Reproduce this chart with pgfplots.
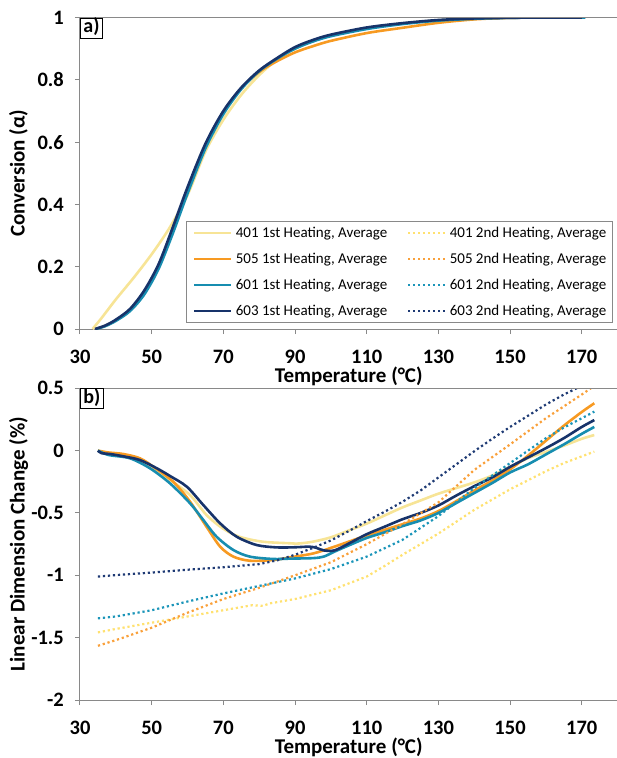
\documentclass[border=0pt]{standalone}
\usepackage{fontspec}
\setmainfont{Carlito}
\usepackage{pgfplots}
\pgfplotsset{compat=1.18}

\definecolor{axgray}{HTML}{898989}
\definecolor{cA}{HTML}{F7E496}% 401
\definecolor{cB}{HTML}{F79A22}% 505
\definecolor{cC}{HTML}{178DB0}% 601
\definecolor{cD}{HTML}{17336A}% 603
\definecolor{dA}{HTML}{FFE170}
\definecolor{dB}{HTML}{F9A03A}
\definecolor{dC}{HTML}{1B95B9}
\definecolor{dD}{HTML}{1E3A74}

\newcommand\tickfont{\bfseries\fontsize{20.5}{22}\selectfont}
\newcommand\labfont{\bfseries\fontsize{21}{22}\selectfont}

\tikzset{
  first/.style={smooth, tension=0.5, line width=2.6pt, line join=round},
  second/.style={line width=2.2pt, dash pattern=on 2.2pt off 2.8pt},
  tag/.style={draw=black, fill=white, line width=0.8pt,
    font=\bfseries\fontsize{20}{22}\selectfont,
    inner xsep=3pt, inner ysep=0pt, text height=15pt, text depth=5pt},
}

\pgfplotsset{
  panel/.style={
    scale only axis, width=537.6pt,
    xmin=30, xmax=180,
    axis x line*=bottom, axis y line*=left,
    axis line style={draw=axgray, line width=1pt},
    tick align=outside, major tick length=5pt,
    tick style={draw=axgray, line width=1pt},
    xtick={30,50,70,90,110,130,150,170},
    xticklabels={30,50,70,90,110,130,150,170},
    ticklabel style={font=\tickfont},
    xticklabel style={anchor=north, inner sep=0pt},
    yticklabel style={anchor=east, inner sep=0pt},
    xticklabel shift=16pt, yticklabel shift=11pt,
    xlabel={Temperature (°C)},
    label style={font=\labfont, inner sep=0pt},
    xlabel style={at={(axis description cs:0.5,-0.153)}, anchor=center},
    ylabel style={at={(axis description cs:-0.1144,0.5)}, anchor=center},
    clip=true,
  },
}

\begin{document}
\begin{tikzpicture}

% a) conversion
\begin{axis}[panel,
  at={(80pt,-329pt)}, anchor=south west, height=311.5pt,
  ymin=0, ymax=1,
  ytick={0,0.2,0.4,0.6,0.8,1},
  yticklabels={0,0.2,0.4,0.6,0.8,1},
  ylabel={Conversion (α)},
  legend columns=2, legend cell align=left,
  legend image code/.code={\draw[#1] (0pt,0pt) -- (37pt,0pt);},
  legend style={at={(1,0)}, anchor=south east, xshift=-5pt, yshift=6pt,
    draw=axgray, line width=0.8pt, font=\fontsize{15}{17}\selectfont,
    inner xsep=6pt, inner ysep=4.5pt, row sep=12pt,
    nodes={inner sep=0pt, text height=11pt, text depth=3pt},
    /tikz/every odd column/.append style={column sep=3.4pt},
    /tikz/every even column/.append style={column sep=20pt}},
]
\addplot[first, cA] coordinates {
  (33.5,0) (36,0.035) (40,0.095) (45,0.165) (50,0.24) (55,0.325) (60,0.43)
  (65,0.57) (70,0.672) (75,0.752) (80,0.815) (85,0.865) (90,0.9) (95,0.925)
  (100,0.943) (110,0.966) (120,0.981) (130,0.991) (140,0.997) (150,0.999)
  (160,1) (170,1)
};
\addlegendentry{401 1st Heating, Average}
\addlegendimage{second, dA}
\addlegendentry{401 2nd Heating, Average}
\addplot[first, cB] coordinates {
  (34.3,0) (37,0.01) (40,0.028) (44,0.062) (48,0.118) (52,0.203) (56,0.32)
  (60,0.445) (65,0.587) (70,0.695) (75,0.772) (80,0.825) (85,0.86) (90,0.888)
  (95,0.908) (100,0.925) (110,0.95) (120,0.967) (130,0.983) (140,0.994)
  (150,0.999) (160,1) (170,1)
};
\addlegendentry{505 1st Heating, Average}
\addlegendimage{second, dB}
\addlegendentry{505 2nd Heating, Average}
\addplot[first, cC] coordinates {
  (34.5,0) (37,0.009) (40,0.026) (44,0.058) (48,0.112) (52,0.195) (56,0.31)
  (60,0.435) (65,0.58) (70,0.69) (75,0.77) (80,0.828) (85,0.868) (90,0.9)
  (95,0.923) (100,0.94) (110,0.963) (120,0.979) (130,0.99) (140,0.996)
  (150,0.999) (160,1) (171,1)
};
\addlegendentry{601 1st Heating, Average}
\addlegendimage{second, dC}
\addlegendentry{601 2nd Heating, Average}
\addplot[first, cD] coordinates {
  (34.2,0) (37,0.011) (40,0.03) (44,0.065) (48,0.125) (52,0.21) (56,0.33)
  (60,0.455) (65,0.595) (70,0.70) (75,0.775) (80,0.83) (85,0.87) (90,0.905)
  (95,0.928) (100,0.945) (110,0.968) (120,0.982) (130,0.992) (140,0.997)
  (150,0.999) (160,1) (170,1)
};
\addlegendentry{603 1st Heating, Average}
\addlegendimage{second, dD}
\addlegendentry{603 2nd Heating, Average}
\draw[axgray, line width=1pt] (rel axis cs:0,1) -- (rel axis cs:1,1);
\node[tag, anchor=north west] at (rel axis cs:0,1) {a)};
\end{axis}

% b) linear dimension change
\begin{axis}[panel,
  at={(80pt,-700pt)}, anchor=south west, height=311.7pt,
  ymin=-2, ymax=0.5,
  ytick={-2,-1.5,-1,-0.5,0,0.5},
  yticklabels={-2,-1.5,-1,-0.5,0,0.5},
  ylabel={Linear Dimension Change (\%)},
]
\addplot[first, cA] coordinates {
  (35,0) (38,-0.02) (42,-0.04) (46.7,-0.088) (51,-0.16) (55.1,-0.235)
  (60.7,-0.356) (65.3,-0.516) (69.8,-0.623) (74.4,-0.69) (80.9,-0.73)
  (88.6,-0.743) (91,-0.745) (95,-0.73) (100,-0.695) (105,-0.64) (110,-0.585)
  (115,-0.52) (120,-0.455) (125,-0.4) (130,-0.345) (135,-0.3) (140,-0.255)
  (145,-0.2) (150,-0.13) (155,-0.06) (160,-0.01) (165,0.04) (170,0.095)
  (173.5,0.125)
};
\addplot[first, cB] coordinates {
  (35,0) (38,-0.015) (42.1,-0.027) (46.7,-0.061) (50.4,-0.128) (56,-0.249)
  (60.7,-0.409) (65.3,-0.61) (69.1,-0.77) (72.8,-0.85) (77.4,-0.883)
  (83.9,-0.877) (88.6,-0.856) (95,-0.825) (100,-0.78) (105,-0.73)
  (110,-0.68) (115,-0.635) (120,-0.59) (125,-0.545) (130,-0.485)
  (135,-0.405) (140,-0.32) (145,-0.24) (150,-0.15) (155,-0.04) (160,0.08)
  (165,0.2) (170,0.31) (173.5,0.38)
};
\addplot[first, cC] coordinates {
  (35,0) (38,-0.035) (43.9,-0.061) (49.5,-0.141) (55.1,-0.262) (60.7,-0.422)
  (64.4,-0.556) (68.1,-0.69) (72.8,-0.797) (77.4,-0.85) (83.9,-0.869)
  (88.6,-0.866) (95,-0.862) (98,-0.85) (101,-0.81) (105,-0.76) (110,-0.70)
  (115,-0.655) (120,-0.605) (125,-0.56) (130,-0.5) (135,-0.42) (140,-0.34)
  (145,-0.26) (150,-0.175) (155,-0.11) (160,-0.03) (165,0.05) (170,0.135)
  (173.5,0.19)
};
\addplot[first, cD] coordinates {
  (35,0) (36,-0.02) (38.4,-0.027) (42,-0.045) (46.7,-0.075) (51.4,-0.141)
  (55.1,-0.203) (59.8,-0.289) (64.4,-0.436) (69.1,-0.583) (73.7,-0.69)
  (79.3,-0.757) (84.9,-0.776) (90,-0.775) (94,-0.77) (96,-0.78) (98,-0.8)
  (101,-0.8) (105,-0.745) (110,-0.67) (115,-0.61) (120,-0.55) (125,-0.5)
  (130,-0.44) (135,-0.36) (140,-0.285) (145,-0.215) (150,-0.13)
  (155,-0.055) (160,0.02) (165,0.1) (170,0.19) (173.5,0.245)
};
\addplot[second, dA] coordinates {
  (35,-1.458) (40,-1.43) (50,-1.38) (60,-1.33) (70,-1.28) (78,-1.24)
  (81,-1.245) (83,-1.225) (90,-1.19) (100,-1.12) (110,-1.01) (115,-0.925)
  (120,-0.835) (130,-0.665) (140,-0.475) (150,-0.31) (160,-0.165) (165,-0.1)
  (173.5,-0.008)
};
\addplot[second, dB] coordinates {
  (35,-1.565) (40,-1.52) (50,-1.42) (60,-1.30) (70,-1.19) (80,-1.10)
  (90,-1.00) (100,-0.895) (110,-0.75) (120,-0.59) (130,-0.415) (140,-0.155)
  (150,0.05) (160,0.26) (170,0.45) (173,0.51)
};
\addplot[second, dC] coordinates {
  (35,-1.345) (40,-1.33) (50,-1.28) (60,-1.21) (70,-1.145) (80,-1.085)
  (90,-1.025) (100,-0.95) (110,-0.85) (120,-0.715) (130,-0.525) (140,-0.3)
  (150,-0.1) (160,0.1) (165,0.185) (170,0.26) (173.5,0.313)
};
\addplot[second, dD] coordinates {
  (35,-1.01) (40,-0.998) (50,-0.978) (60,-0.955) (70,-0.935) (80,-0.91)
  (85,-0.88) (90,-0.835) (95,-0.78) (100,-0.72) (105,-0.645) (110,-0.565)
  (115,-0.49) (120,-0.41) (125,-0.32) (130,-0.215) (135,-0.11) (140,-0.005)
  (145,0.095) (150,0.19) (155,0.28) (160,0.37) (165,0.45) (170,0.52)
};
\draw[axgray, line width=1pt] (rel axis cs:0,1) -- (rel axis cs:1,1);
\node[tag, anchor=north west] at (rel axis cs:0,1) {b)};
\end{axis}

\pgfresetboundingbox
\path (0pt,0pt) rectangle (617pt,-758pt);
\end{tikzpicture}
\end{document}
